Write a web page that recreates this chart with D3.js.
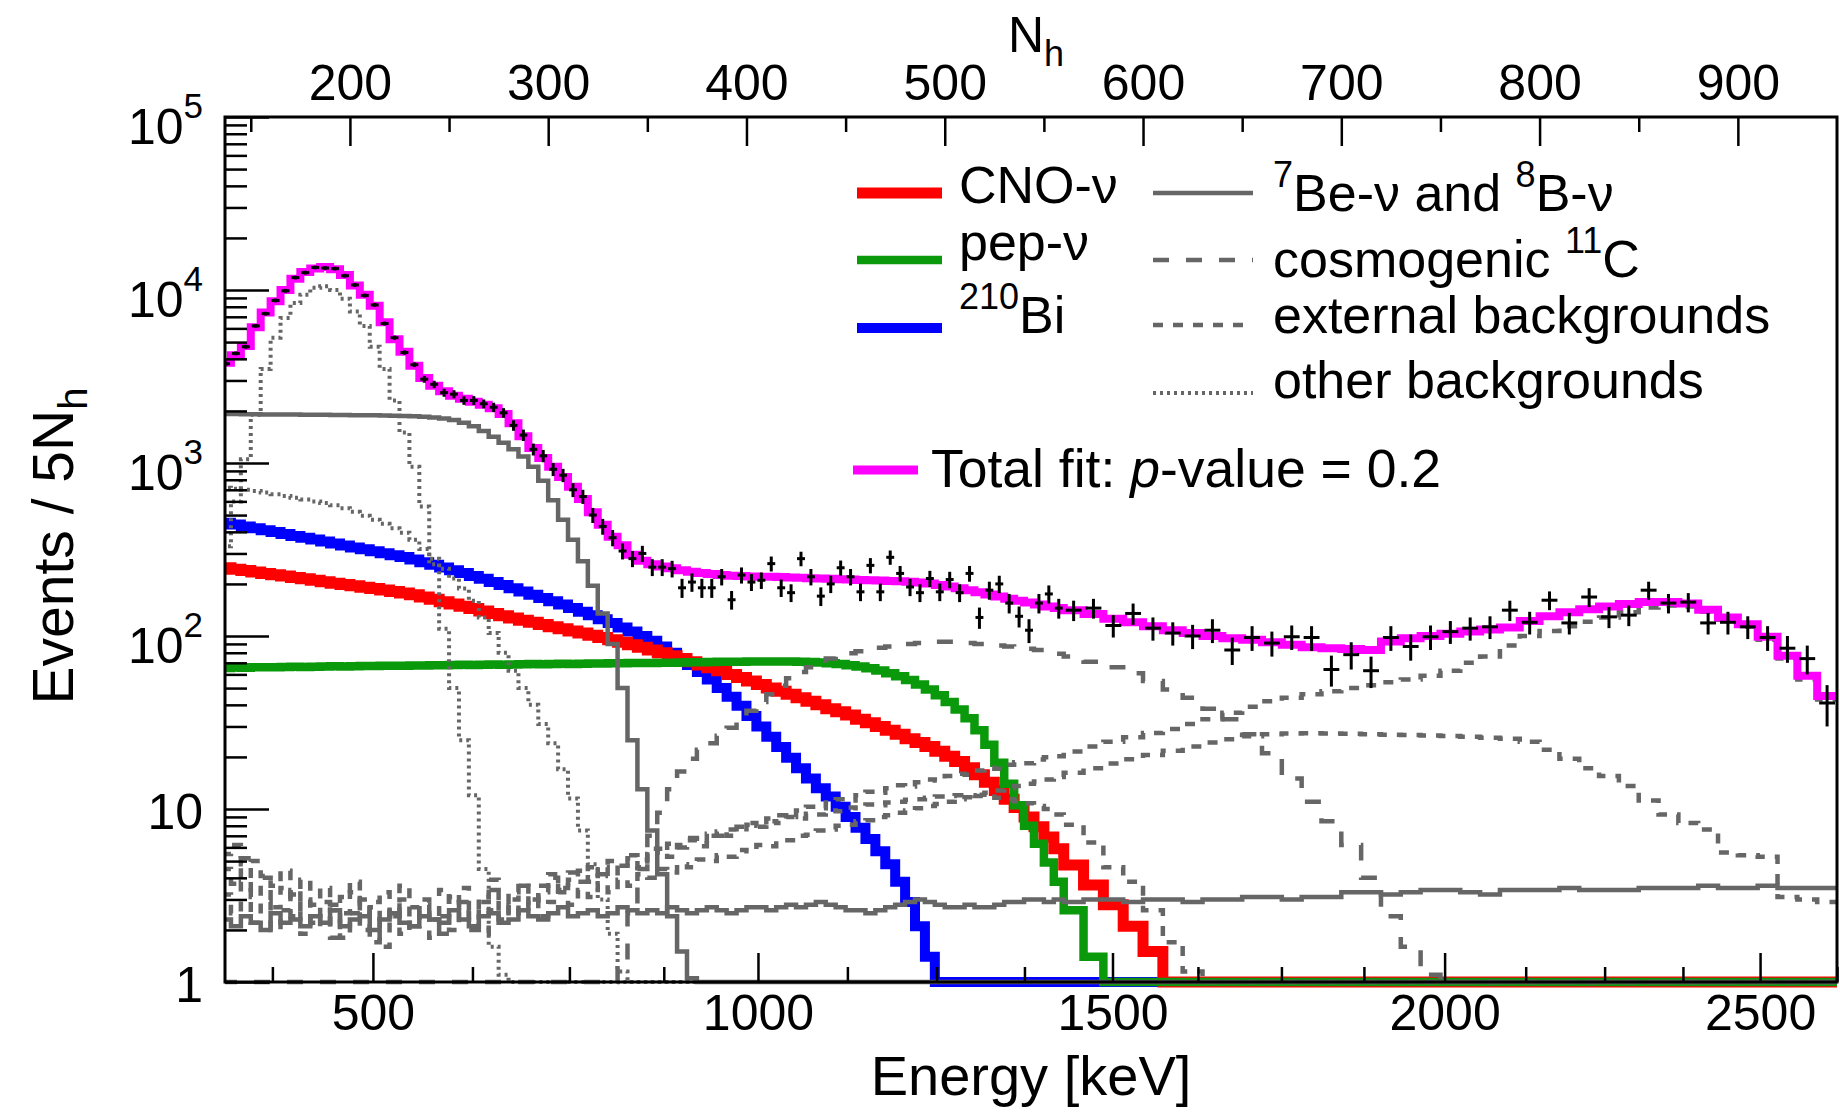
<!DOCTYPE html>
<html>
<head>
<meta charset="utf-8">
<title>CNO spectral fit</title>
<script src="https://cdn.jsdelivr.net/npm/d3@7/dist/d3.min.js"></script>
<style>
  html, body { margin: 0; padding: 0; background: #ffffff; }
  svg { display: block; }
  text { font-family: "Liberation Sans", Arial, Helvetica, sans-serif; fill: #000; }
</style>
</head>
<body>
<svg id="chart" width="1840" height="1112"></svg>
<script>
// ---------------------------------------------------------------------------
// Binning in N_h: 5-N_h bins up to 560, 10-N_h bins above.
// ---------------------------------------------------------------------------
const FINE = { start: 135, step: 5, count: 85 };
const COARSE = { start: 560, step: 10, count: 39 };
const binEdges = d3.range(FINE.count + 1).map(i => FINE.start + FINE.step * i)
  .concat(d3.range(1, COARSE.count + 1).map(i => COARSE.start + COARSE.step * i));
const NBINS = binEdges.length - 1;
// place a run of bin contents starting at a given bin; other bins are empty
const fromBin = (first, values) => {
  const out = new Array(NBINS).fill(0);
  values.forEach((v, k) => { out[first + k] = v; });
  return out;
};

// Energy scale calibration: energy tick (keV) -> N_h
const energyTickKeV = [375, 500, 625, 750, 875, 1000, 1125, 1250, 1375, 1500, 1625, 1750, 1875, 2000, 2125, 2250, 2375, 2500, 2625];
const energyTickNh  = [160.9, 211.6, 261.8, 310.7, 358.3, 405.8, 450.9, 495.9, 540.2, 584.6, 627.7, 669.8, 711.4, 752.1, 793.0, 832.8, 872.3, 911.2, 950.0];
const energyMajor = [500, 1000, 1500, 2000, 2500];
const nhMajor = [200, 300, 400, 500, 600, 700, 800, 900];
const nhMinor = [150, 250, 350, 450, 550, 650, 750, 850];
const yDecades = [1, 10, 100, 1000, 10000, 100000];

// ---------------------------------------------------------------------------
// Spectrum contents (events / 5 N_h)
// ---------------------------------------------------------------------------
const dataCounts = [
  3750, 4300, 4700, 6200, 7300, 8700, 9900, 11800, 12600, 13500,
  13400, 13300, 12100, 10700, 9300, 8200, 6400, 5300, 4350, 3700,
  3050, 2850, 2550, 2500, 2300, 2300, 2200, 2100, 1950, 1650,
  1450, 1200, 1100, 920, 850, 700, 640, 500, 430, 370,
  310, 280, 300, 250, 250, 245, 190, 205, 190, 190,
  220, 162, 225, 205, 210, 262, 190, 178, 280, 220,
  170, 200, 248, 220, 180, 256, 180, 285, 230, 192,
  178, 215, 180, 212, 178, 230, 128, 184, 200, 155,
  130, 108, 155, 175, 145,
  141, 145, 115, 135, 111, 104, 100, 108, 83, 98,
  91, 99, 98, 64, 78, 63, 98, 87, 99, 106,
  111, 113, 141, 120, 161, 119, 168, 129, 132, 184,
  155, 157, 119, 120, 113, 98, 85, 74, 41
];
const dataErrors = [
  95, 110, 120, 155, 180, 215, 245, 290, 310, 330,
  330, 330, 300, 270, 240, 215, 175, 150, 130, 115,
  140, 140, 135, 135, 130, 135, 130, 130, 125, 115,
  110, 95, 90, 80, 75, 65, 60, 50, 45, 40,
  33, 30, 32, 28, 28, 27, 24, 25, 24, 24,
  24, 20, 24, 23, 23, 26, 22, 21, 27, 24,
  21, 23, 25, 24, 21, 26, 21, 27, 24, 22,
  21, 23, 21, 23, 21, 24, 18, 22, 23, 20,
  18, 17, 20, 21, 19,
  19, 19, 17, 19, 17, 16, 16, 17, 15, 16,
  15, 16, 16, 13, 14, 13, 16, 15, 16, 16,
  17, 17, 19, 18, 20, 17, 21, 18, 18, 22,
  20, 20, 17, 18, 17, 16, 15, 14, 11
];
const totalFit = [
  3800, 4200, 4750, 6100, 7400, 8600, 10000, 11600, 12700, 13300,
  13600, 13200, 12200, 10600, 9400, 8100, 6500, 5200, 4400, 3650,
  3100, 2800, 2600, 2450, 2350, 2260, 2170, 2070, 1920, 1700,
  1430, 1220, 1070, 950, 830, 730, 620, 520, 440, 375,
  335, 295, 272, 260, 252, 246, 240, 235, 231, 228,
  225, 223, 222, 221, 220, 220, 219, 218, 217, 216,
  215, 214, 213, 212, 211, 210, 209, 208, 207, 206,
  204, 201, 197, 193, 189, 184, 179, 174, 169, 164,
  160, 156, 152, 148, 145,
  141, 134, 126, 120, 114, 108, 104, 100, 97, 95,
  92, 89, 86, 85, 84, 83, 93, 97, 100, 103,
  106, 109, 112, 122, 130, 137, 143, 148, 153, 157,
  157, 154, 142, 128, 117, 99, 77, 59, 45
];
const cnoNu = fromBin(0, [
  248, 243.5, 239, 234.5, 230, 226, 222, 218, 214, 210,
  206, 202, 198.5, 195, 191.5, 188, 184.5, 181, 177.5, 173,
  168, 163, 158, 153, 148.5, 144, 139.5, 135, 131, 127,
  123.5, 120, 116.5, 113, 110, 107, 104, 101, 98, 95,
  92, 89, 86, 83, 80, 77, 74, 71, 68, 65.5,
  63, 60, 57.5, 55, 52.5, 50, 48, 46, 44, 42,
  40, 38, 36.5, 35, 33, 31.5, 30, 28.5, 27, 25.5,
  24.2, 23, 21.6, 20.2, 18.8, 17.3, 15.8, 14.3, 12.8, 11.4,
  10.2, 9.0, 7.9, 6.9, 5.9,
  4.75, 3.64, 2.8, 2.1, 1.5
]);
const pepNu = fromBin(0, [
  65.4, 65.7, 65.6, 65.9, 66.0, 65.9, 66.2, 66.4, 66.3, 66.5,
  66.6, 66.8, 66.7, 66.9, 67.1, 67.0, 67.2, 67.4, 67.3, 67.5,
  67.6, 67.8, 67.7, 67.9, 68.1, 68.0, 68.2, 68.4, 68.3, 68.5,
  68.6, 68.8, 68.7, 68.9, 69.1, 69.0, 69.2, 69.4, 69.3, 69.5,
  69.6, 69.8, 69.7, 69.9, 70.1, 70.0, 70.3, 70.4, 70.6, 70.8,
  70.9, 71.0, 71.1, 71.2, 71.3, 71.3, 71.3, 71.2, 71.0, 70.7,
  70.2, 69.6, 68.8, 67.8, 66.6, 65.0, 63.2, 61.0, 58.5, 55.6,
  52.4, 49.0, 45.4, 41.6, 37.6, 33.5, 28.5, 23.5, 18.5, 14.0,
  10.5, 8.0, 6.3, 4.9, 3.8,
  2.6, 1.4
]);
const bi210 = fromBin(0, [
  452, 441, 430, 419, 409, 399, 389, 379, 370, 361,
  352, 343, 334, 325, 317, 309, 301, 293, 286, 277,
  267, 258, 249, 240, 231, 222, 214, 205, 197, 189,
  181, 173, 166, 159, 152, 145, 138, 132, 125, 119,
  112, 106, 100, 94, 87, 80, 74, 68, 62, 56,
  50, 44.5, 39.5, 34.5, 30, 26.2, 22.8, 19.8, 17.2, 15,
  13.2, 11.8, 10.3, 9.0, 7.8, 6.7, 5.7, 4.8, 3.8, 2.9,
  2.1, 1.4
]);
const be7Nu = fromBin(0, [
  1920, 1920, 1915, 1915, 1910, 1910, 1905, 1905, 1900, 1900,
  1900, 1895, 1895, 1890, 1890, 1885, 1880, 1875, 1870, 1860,
  1850, 1835, 1810, 1770, 1710, 1630, 1530, 1420, 1310, 1200,
  1090, 950, 790, 610, 470, 360, 270, 195, 135, 90,
  50, 25, 13, 7.5, 4.2, 2.4, 1.5, 1.05
]);
const b8Nu = [
  2.3, 2.1, 2.4, 2.2, 2.0, 2.5, 2.2, 2.3, 2.1, 2.4,
  2.2, 2.6, 2.1, 2.3, 2.4, 2.0, 2.3, 2.5, 2.2, 2.1,
  2.4, 2.3, 2.2, 2.6, 2.3, 2.1, 2.4, 2.5, 2.2, 2.3,
  2.6, 2.4, 2.3, 2.5, 2.7, 2.4, 2.5, 2.6, 2.4, 2.5,
  2.7, 2.6, 2.5, 2.6, 2.5, 2.7, 2.6, 2.5, 2.6, 2.7,
  2.6, 2.5, 2.6, 2.7, 2.7, 2.6, 2.7, 2.8, 2.7, 2.8,
  2.9, 2.8, 2.7, 2.6, 2.6, 2.5, 2.6, 2.7, 2.8, 2.9,
  3.0, 2.9, 2.8, 2.7, 2.7, 2.8, 2.7, 2.7, 2.8, 2.9,
  2.9, 3.0, 3.0, 2.9, 3.0,
  2.9, 3.0, 3.0, 2.9, 3.0, 3.0, 2.9, 3.0, 3.0, 3.1,
  3.1, 3.0, 3.1, 3.1, 3.3, 3.3, 3.2, 3.3, 3.4, 3.4,
  3.3, 3.2, 3.4, 3.4, 3.4, 3.5, 3.4, 3.4, 3.4, 3.5,
  3.5, 3.5, 3.6, 3.5, 3.5, 3.6, 3.5, 3.5, 3.5
];
const c11 = fromBin(40, [
  1.2, 2.5, 4.5, 7, 9.5, 13, 16.5, 19.5, 22, 24,
  26.5, 29.5, 33, 37, 41.5, 46, 51.5, 57, 62, 66,
  70, 74, 77, 79.5, 81.5, 83.5, 85.5, 87, 88.5, 90,
  91, 92, 92.5, 92.5, 92, 91, 90, 89, 88, 87,
  86, 84.5, 83, 81, 79,
  76, 71, 66, 61, 55, 49, 44, 38, 33, 27,
  21, 15, 11, 8.5, 6.2, 4.0, 2.4, 1.6, 1.1
]);
const extTl208 = [
  5.5, 6.2, 4.8, 5.0, 4.1, 3.6, 4.4, 3.2, 3.9, 2.8,
  3.5, 2.6, 3.1, 3.8, 2.5, 2.9, 3.3, 2.4, 3.6, 2.7,
  3.0, 2.3, 3.4, 2.8, 3.5, 2.6, 3.1, 3.9, 2.9, 3.3,
  3.7, 3.0, 3.6, 4.2, 3.4, 3.9, 4.4, 3.8, 4.6, 4.1,
  4.8, 5.2, 4.6, 5.5, 5.9, 5.3, 6.2, 6.6, 6.1, 7.0,
  7.4, 7.0, 7.9, 8.3, 8.0, 8.8, 9.2, 9.0, 9.8, 10.3,
  10.1, 10.9, 11.4, 11.2, 12.0, 12.6, 12.4, 13.2, 13.7, 13.5,
  14.3, 14.8, 14.6, 15.5, 16.0, 15.8, 16.7, 17.3, 17.1, 18.0,
  18.6, 18.4, 19.3, 19.9, 20.2,
  21.5, 23, 24.5, 26, 27.5, 29, 31, 33, 36, 39,
  42, 44, 46, 48, 50, 52, 54, 56, 59, 63,
  70, 76, 88, 100, 107, 114, 121, 128, 137, 146,
  150, 148, 138, 124, 113, 95, 74, 56, 43
];
const extBi214 = [
  3.2, 2.5, 3.8, 2.2, 2.9, 2.0, 2.6, 3.4, 1.9, 2.4,
  2.1, 2.8, 1.8, 2.5, 3.0, 1.7, 2.3, 2.7, 1.9, 2.2,
  2.6, 1.8, 2.4, 2.0, 2.9, 2.2, 1.9, 2.6, 2.3, 2.8,
  2.5, 3.0, 2.4, 2.9, 3.3, 2.8, 3.4, 3.1, 3.7, 3.3,
  3.9, 3.6, 4.2, 4.0, 4.5, 4.3, 4.8, 4.6, 5.1, 5.0,
  5.4, 5.3, 5.8, 5.7, 6.2, 6.1, 6.6, 6.6, 7.0, 7.1,
  7.5, 7.6, 8.0, 8.1, 8.5, 8.6, 9.0, 9.2, 9.5, 9.8,
  10.1, 10.4, 10.7, 11.0, 11.4, 11.7, 12.1, 12.4, 12.8, 13.2,
  13.6, 14.0, 14.4, 14.8, 15.3,
  16.2, 17.2, 18.3, 19.4, 20.5, 21.7, 23.0, 24.2, 25.3, 26.3,
  27.0, 27.3, 27.4, 27.3, 27.2, 27.0, 26.9, 26.8, 26.6, 26.4,
  26.2, 25.8, 25.5, 24.5, 22.0, 19.5, 17.2, 15.5, 13.6, 11.2,
  9.3, 8.3, 7.6, 5.6, 5.4, 5.3, 3.1, 3.0, 2.9
];
const extK40 = fromBin(0, [
  4.5, 3.7, 5.2, 3.1, 4.0, 2.7, 3.5, 2.4, 3.0, 2.2,
  2.9, 1.8, 2.5, 3.3, 2.0, 2.7, 1.6, 2.4, 3.0, 2.1,
  2.8, 2.3, 1.9, 3.1, 2.6, 2.0, 2.9, 3.4, 2.5, 3.0,
  3.6, 2.8, 3.3, 4.0, 3.5, 4.3, 3.8, 4.6, 4.2, 5.0,
  4.7, 5.4, 5.1, 5.9, 5.6, 6.3, 6.0, 6.8, 6.5, 7.2,
  7.0, 7.6, 7.4, 8.1, 7.9, 8.5, 8.3, 9.0, 8.8, 9.4,
  9.3, 9.8, 9.7, 10.2, 10.1, 10.6, 10.5, 10.9, 11.0, 11.3,
  11.4, 11.6, 11.8, 11.9, 12.0, 12.0, 11.9, 11.8, 11.6, 11.4,
  11.1, 10.8, 10.4, 10.0, 9.3,
  8.1, 6.4, 4.6, 3.8, 2.6, 1.7, 1.15
]);
const po210 = fromBin(0, [
  330, 600, 1050, 1900, 3500, 5300, 6900, 8400, 9400, 10300,
  10500, 10000, 8900, 7500, 6200, 4700, 3500, 2300, 1500, 950,
  560, 260, 110, 50, 25, 12, 4.5, 1.6, 1.1
]);
const kr85 = fromBin(0, [
  720, 710, 700, 690, 675, 660, 645, 630, 615, 600,
  588, 570, 548, 522, 495, 470, 445, 420, 395, 360,
  318, 280, 245, 215, 188, 160, 128, 104, 80, 63,
  50, 40, 31, 24, 17, 11.5, 7.5, 4.8, 3.0, 1.9,
  1.15
]);

// ---------------------------------------------------------------------------
// Layout and scales
// ---------------------------------------------------------------------------
const frame = { left: 225, right: 1837, top: 117, bottom: 982 };
const x = d3.scaleLinear().domain([137, 950]).range([frame.left, frame.right]);
const y = d3.scaleLog().domain([1, 1e5]).range([frame.bottom, frame.top]);
const xEnergy = d3.scaleLinear().domain(energyTickKeV).range(energyTickNh.map(n => x(n)));

const GRAY = "#666666";
const styles = {
  cno:   { stroke: "#ff0000", width: 11 },
  pep:   { stroke: "#0a990a", width: 8.5 },
  bi:    { stroke: "#0000ff", width: 10 },
  solid: { stroke: GRAY, width: 4.5 },
  dash:  { stroke: GRAY, width: 4.5, dash: "16,17" },
  ext:   { stroke: GRAY, width: 4.5, dash: "10,10" },
  dot:   { stroke: GRAY, width: 4, dash: "3,4" },
  total: { stroke: "#ff00ff", width: 8 }
};

const svg = d3.select("#chart");
svg.append("rect").attr("width", 1840).attr("height", 1112).attr("fill", "#fff");

svg.append("defs").append("clipPath").attr("id", "plotClip")
  .append("rect")
  .attr("x", frame.left).attr("y", frame.top - 6)
  .attr("width", frame.right - frame.left).attr("height", frame.bottom - frame.top + 14);

const plot = svg.append("g").attr("clip-path", "url(#plotClip)");

// histogram outline: flat top over each bin, contents below the axis minimum sit on it
function stepPoints(values) {
  const pts = [];
  values.forEach((v, i) => {
    const yy = y(Math.min(Math.max(v, 1), 1e5));
    pts.push([x(binEdges[i]), yy], [x(binEdges[i + 1]), yy]);
  });
  return pts;
}
const line = d3.line();
function drawHist(values, st) {
  plot.append("path")
    .attr("d", line(stepPoints(values)))
    .attr("fill", "none")
    .attr("stroke", st.stroke)
    .attr("stroke-width", st.width)
    .attr("stroke-linejoin", "miter")
    .attr("stroke-linecap", "butt")
    .attr("stroke-dasharray", st.dash || null);
}

// signal components
drawHist(bi210, styles.bi);
drawHist(cnoNu, styles.cno);
drawHist(pepNu, styles.pep);
// backgrounds and other neutrino components
drawHist(extK40, styles.ext);
drawHist(extBi214, styles.ext);
drawHist(extTl208, styles.ext);
drawHist(c11, styles.dash);
drawHist(kr85, styles.dot);
drawHist(po210, styles.dot);
drawHist(b8Nu, styles.solid);
drawHist(be7Nu, styles.solid);
// total fit
drawHist(totalFit, styles.total);

// data points with error bars
const pts = plot.append("g").attr("stroke", "#000").attr("stroke-width", 3);
dataCounts.forEach((v, i) => {
  const lo = binEdges[i], hi = binEdges[i + 1];
  const c = (lo + hi) / 2, half = 0.4 * (hi - lo);
  const e = dataErrors[i];
  pts.append("line")
    .attr("x1", x(c - half)).attr("x2", x(c + half))
    .attr("y1", y(v)).attr("y2", y(v));
  pts.append("line")
    .attr("x1", x(c)).attr("x2", x(c))
    .attr("y1", y(v + e)).attr("y2", y(Math.max(v - e, 1)));
});

// ---------------------------------------------------------------------------
// Axes
// ---------------------------------------------------------------------------
const axisStroke = (g, w) => {
  g.select(".domain").remove();
  g.selectAll(".tick line").attr("stroke", "#000").attr("stroke-width", w);
};

// bottom energy axis, ticks pointing into the frame
const gBottomMinor = svg.append("g").attr("transform", `translate(0,${frame.bottom})`)
  .call(d3.axisBottom(xEnergy).tickValues(energyTickKeV.filter(e => !energyMajor.includes(e)))
    .tickSize(-15).tickFormat(""));
axisStroke(gBottomMinor, 2.5);
const gBottom = svg.append("g").attr("transform", `translate(0,${frame.bottom})`)
  .call(d3.axisBottom(xEnergy).tickValues(energyMajor).tickSize(-29).tickPadding(0).tickFormat(d3.format("d")));
axisStroke(gBottom, 2.5);
gBottom.selectAll(".tick text").attr("font-size", 50).attr("dy", null).attr("y", 48)
  .attr("font-family", '"Liberation Sans", Arial, sans-serif').attr("fill", "#000");

// top N_h axis
const gTopMinor = svg.append("g").attr("transform", `translate(0,${frame.top})`)
  .call(d3.axisTop(x).tickValues(nhMinor).tickSize(-15).tickFormat(""));
axisStroke(gTopMinor, 2.5);
const gTop = svg.append("g").attr("transform", `translate(0,${frame.top})`)
  .call(d3.axisTop(x).tickValues(nhMajor).tickSize(-29).tickPadding(0).tickFormat(d3.format("d")));
axisStroke(gTop, 2.5);
gTop.selectAll(".tick text").attr("font-size", 50).attr("y", -17).attr("dy", null)
  .attr("font-family", '"Liberation Sans", Arial, sans-serif').attr("fill", "#000");

// left logarithmic axis
const yMinor = [];
yDecades.slice(0, -1).forEach(d => { for (let k = 2; k <= 9; k++) yMinor.push(d * k); });
const gLeftMinor = svg.append("g").attr("transform", `translate(${frame.left},0)`)
  .call(d3.axisLeft(y).tickValues(yMinor).tickSize(-22).tickFormat(""));
axisStroke(gLeftMinor, 2.5);
const gLeft = svg.append("g").attr("transform", `translate(${frame.left},0)`)
  .call(d3.axisLeft(y).tickValues(yDecades).tickSize(-44).tickFormat(""));
axisStroke(gLeft, 2.5);
gLeft.selectAll(".tick").each(function (d) {
  const exp = Math.round(Math.log10(d));
  const t = d3.select(this).append("text")
    .attr("x", -22).attr("text-anchor", "end")
    .attr("font-size", 50).attr("fill", "#000");
  if (exp <= 1) {
    t.attr("y", 19).text(String(d));
  } else {
    t.attr("y", 26).text("10");
    t.append("tspan").attr("font-size", 35).attr("dy", -26).text(String(exp));
  }
});

// frame
svg.append("rect")
  .attr("x", frame.left).attr("y", frame.top)
  .attr("width", frame.right - frame.left).attr("height", frame.bottom - frame.top)
  .attr("fill", "none").attr("stroke", "#000").attr("stroke-width", 3);

// axis titles
svg.append("text").attr("x", (frame.left + frame.right) / 2).attr("y", 1095)
  .attr("text-anchor", "middle").attr("font-size", 56).text("Energy [keV]");

const topTitle = svg.append("text").attr("x", 1036).attr("y", 52)
  .attr("text-anchor", "middle").attr("font-size", 50).text("N");
topTitle.append("tspan").attr("font-size", 36).attr("dy", 14).text("h");

const yTitle = svg.append("text")
  .attr("transform", "translate(73,546) rotate(-90)")
  .attr("text-anchor", "middle").attr("font-size", 57).text("Events / 5N");
yTitle.append("tspan").attr("font-size", 40).attr("dy", 14).text("h");

// ---------------------------------------------------------------------------
// Legend
// ---------------------------------------------------------------------------
const legend = svg.append("g");
const leftEntries = [
  { st: styles.cno, y: 193, base: 203, parts: [["", "CNO-ν"]] },
  { st: styles.pep, y: 260, base: 260, parts: [["", "pep-ν"]] },
  { st: styles.bi,  y: 328, base: 333, parts: [["sup", "210"], ["", "Bi"]] }
];
const rightEntries = [
  { st: styles.solid, y: 193, base: 211, parts: [["sup", "7"], ["", "Be-ν and "], ["sup", "8"], ["", "B-ν"]] },
  { st: styles.dash,  y: 260, base: 277, parts: [["", "cosmogenic "], ["sup", "11"], ["", "C"]] },
  { st: styles.ext,   y: 325, base: 333, parts: [["", "external backgrounds"]] },
  { st: styles.dot,   y: 393, base: 398, parts: [["", "other backgrounds"]] }
];
function legendText(xPos, base, parts, size) {
  const t = legend.append("text").attr("x", xPos).attr("y", base).attr("font-size", size || 52);
  let raised = false;
  parts.forEach(([kind, str]) => {
    const s = t.append("tspan").text(str);
    if (kind === "sup") {
      s.attr("font-size", 36).attr("dy", raised ? 0 : -24);
      raised = true;
    } else if (kind === "it") {
      s.attr("font-style", "italic");
      if (raised) { s.attr("dy", 24); raised = false; }
    } else if (raised) {
      s.attr("dy", 24); raised = false;
    }
  });
  return t;
}
function legendLine(x1, x2, yy, st) {
  legend.append("line").attr("x1", x1).attr("x2", x2).attr("y1", yy).attr("y2", yy)
    .attr("stroke", st.stroke).attr("stroke-width", st.width)
    .attr("stroke-dasharray", st.dash || null);
}
leftEntries.forEach(e => { legendLine(857, 942, e.y, e.st); legendText(959, e.base, e.parts); });
rightEntries.forEach(e => { legendLine(1153, 1253, e.y, e.st); legendText(1273, e.base, e.parts); });
legendLine(853, 918, 470, { stroke: styles.total.stroke, width: 9 });
legendText(931, 487, [["", "Total fit: "], ["it", "p"], ["", "-value = 0.2"]], 53.5);
</script>
</body>
</html>
